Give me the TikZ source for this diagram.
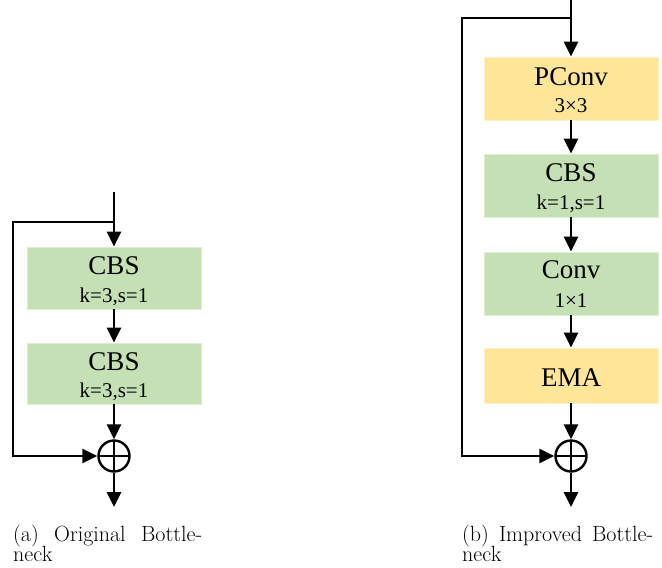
\documentclass[tikz,border=0pt]{standalone}
\usepackage{fontspec}
\newfontfamily\boxfont{Liberation Serif}
\usetikzlibrary{arrows.meta,calc}
\definecolor{cbsgreen}{HTML}{C5E0B4}
\definecolor{cbsedge}{HTML}{DDECD2}
\definecolor{attyellow}{HTML}{FFE699}
\definecolor{attedge}{HTML}{FFF1C4}

\begin{document}
\begin{tikzpicture}[x=1pt,y=-1pt,
  wire/.style={line width=2.8pt,line join=miter},
  flow/.style={wire,-{Triangle[length=15pt,width=14pt]}},
  blockbox/.style={rectangle,inner sep=0pt,line width=0.8pt,minimum width=174pt},
  greenbox/.style={blockbox,fill=cbsgreen,draw=cbsedge},
  yellowbox/.style={blockbox,fill=attyellow,draw=attedge},
  maintext/.style={inner sep=0pt,anchor=base,font=\boxfont\fontsize{27}{29}\selectfont},
  subtext/.style={inner sep=0pt,anchor=base,font=\boxfont\fontsize{21}{24}\selectfont},
  sumnode/.style={circle,draw,line width=2.4pt,minimum size=31pt,inner sep=0pt,
    path picture={\draw[line width=2.2pt]
      (path picture bounding box.north) -- (path picture bounding box.south)
      (path picture bounding box.west) -- (path picture bounding box.east);}},
  caption/.style={inner sep=0pt,anchor=base west,font=\fontsize{22}{24}\selectfont}]
\useasboundingbox (0,0) rectangle (662,568);

% ---------- (a) original bottleneck ----------
\coordinate (inA) at (114,192);
\coordinate (splitA) at (114,222);
\coordinate (skipTopA) at (13,222);
\coordinate (skipBotA) at (13,456);
\coordinate (outA) at (114,507);

\node[greenbox,minimum height=62pt] (cbsA1) at (114,278) {};
\node[maintext] (cbsA1t) at ($(cbsA1.north)+(0,28)$) {CBS};
\node[subtext] (cbsA1s) at ($(cbsA1.north)+(0,56)$) {k=3,s=1};

\node[greenbox,minimum height=61pt] (cbsA2) at (114,373.5) {};
\node[maintext] (cbsA2t) at ($(cbsA2.north)+(0,28)$) {CBS};
\node[subtext] (cbsA2s) at ($(cbsA2.north)+(0,55)$) {k=3,s=1};

\node[sumnode] (sumA) at (114,456) {};

\draw[flow] (inA) -- (cbsA1.north);
\draw[flow] (cbsA1.south) -- (cbsA2.north);
\draw[flow] (cbsA2.south) -- (sumA.north);
\draw[flow] (splitA) -- (skipTopA) -- (skipBotA) -- (sumA.west);
\draw[flow] (sumA.south) -- (outA);

\node[caption] (capA1) at (13,541) {\hbox to 189pt{(a)\hfill Original\hfill Bottle-}};
\node[caption] (capA2) at (13,561) {neck};

% ---------- (b) improved bottleneck ----------
\coordinate (inB) at (571,0);
\coordinate (splitB) at (571,18);
\coordinate (skipTopB) at (462,18);
\coordinate (skipBotB) at (462,456);
\coordinate (outB) at (571,507);

\node[yellowbox,minimum height=63pt] (pconv) at (571,88.5) {};
\node[maintext] (pconvt) at ($(pconv.north)+(0,29)$) {PConv};
\node[subtext] (pconvs) at ($(pconv.north)+(0,56)$) {3×3};

\node[greenbox,minimum height=63pt] (cbsB) at (571,185.5) {};
\node[maintext] (cbsBt) at ($(cbsB.north)+(0,28)$) {CBS};
\node[subtext] (cbsBs) at ($(cbsB.north)+(0,56)$) {k=1,s=1};

\node[greenbox,minimum height=63pt] (conv) at (571,283.5) {};
\node[maintext] (convt) at ($(conv.north)+(0,27)$) {Conv};
\node[subtext] (convs) at ($(conv.north)+(0,56)$) {1×1};

\node[yellowbox,minimum height=55pt] (ema) at (571,375.5) {};
\node[maintext] (emat) at ($(ema.north)+(0,39)$) {EMA};

\node[sumnode] (sumB) at (571,456) {};

\draw[flow] (inB) -- (pconv.north);
\draw[flow] (pconv.south) -- (cbsB.north);
\draw[flow] (cbsB.south) -- (conv.north);
\draw[flow] (conv.south) -- (ema.north);
\draw[flow] (ema.south) -- (sumB.north);
\draw[flow] (splitB) -- (skipTopB) -- (skipBotB) -- (sumB.west);
\draw[flow] (sumB.south) -- (outB);

\node[caption] (capB1) at (462,541) {\hbox to 191pt{(b)\hfill Improved\hfill Bottle-}};
\node[caption] (capB2) at (462,561) {neck};
\end{tikzpicture}
\end{document}
